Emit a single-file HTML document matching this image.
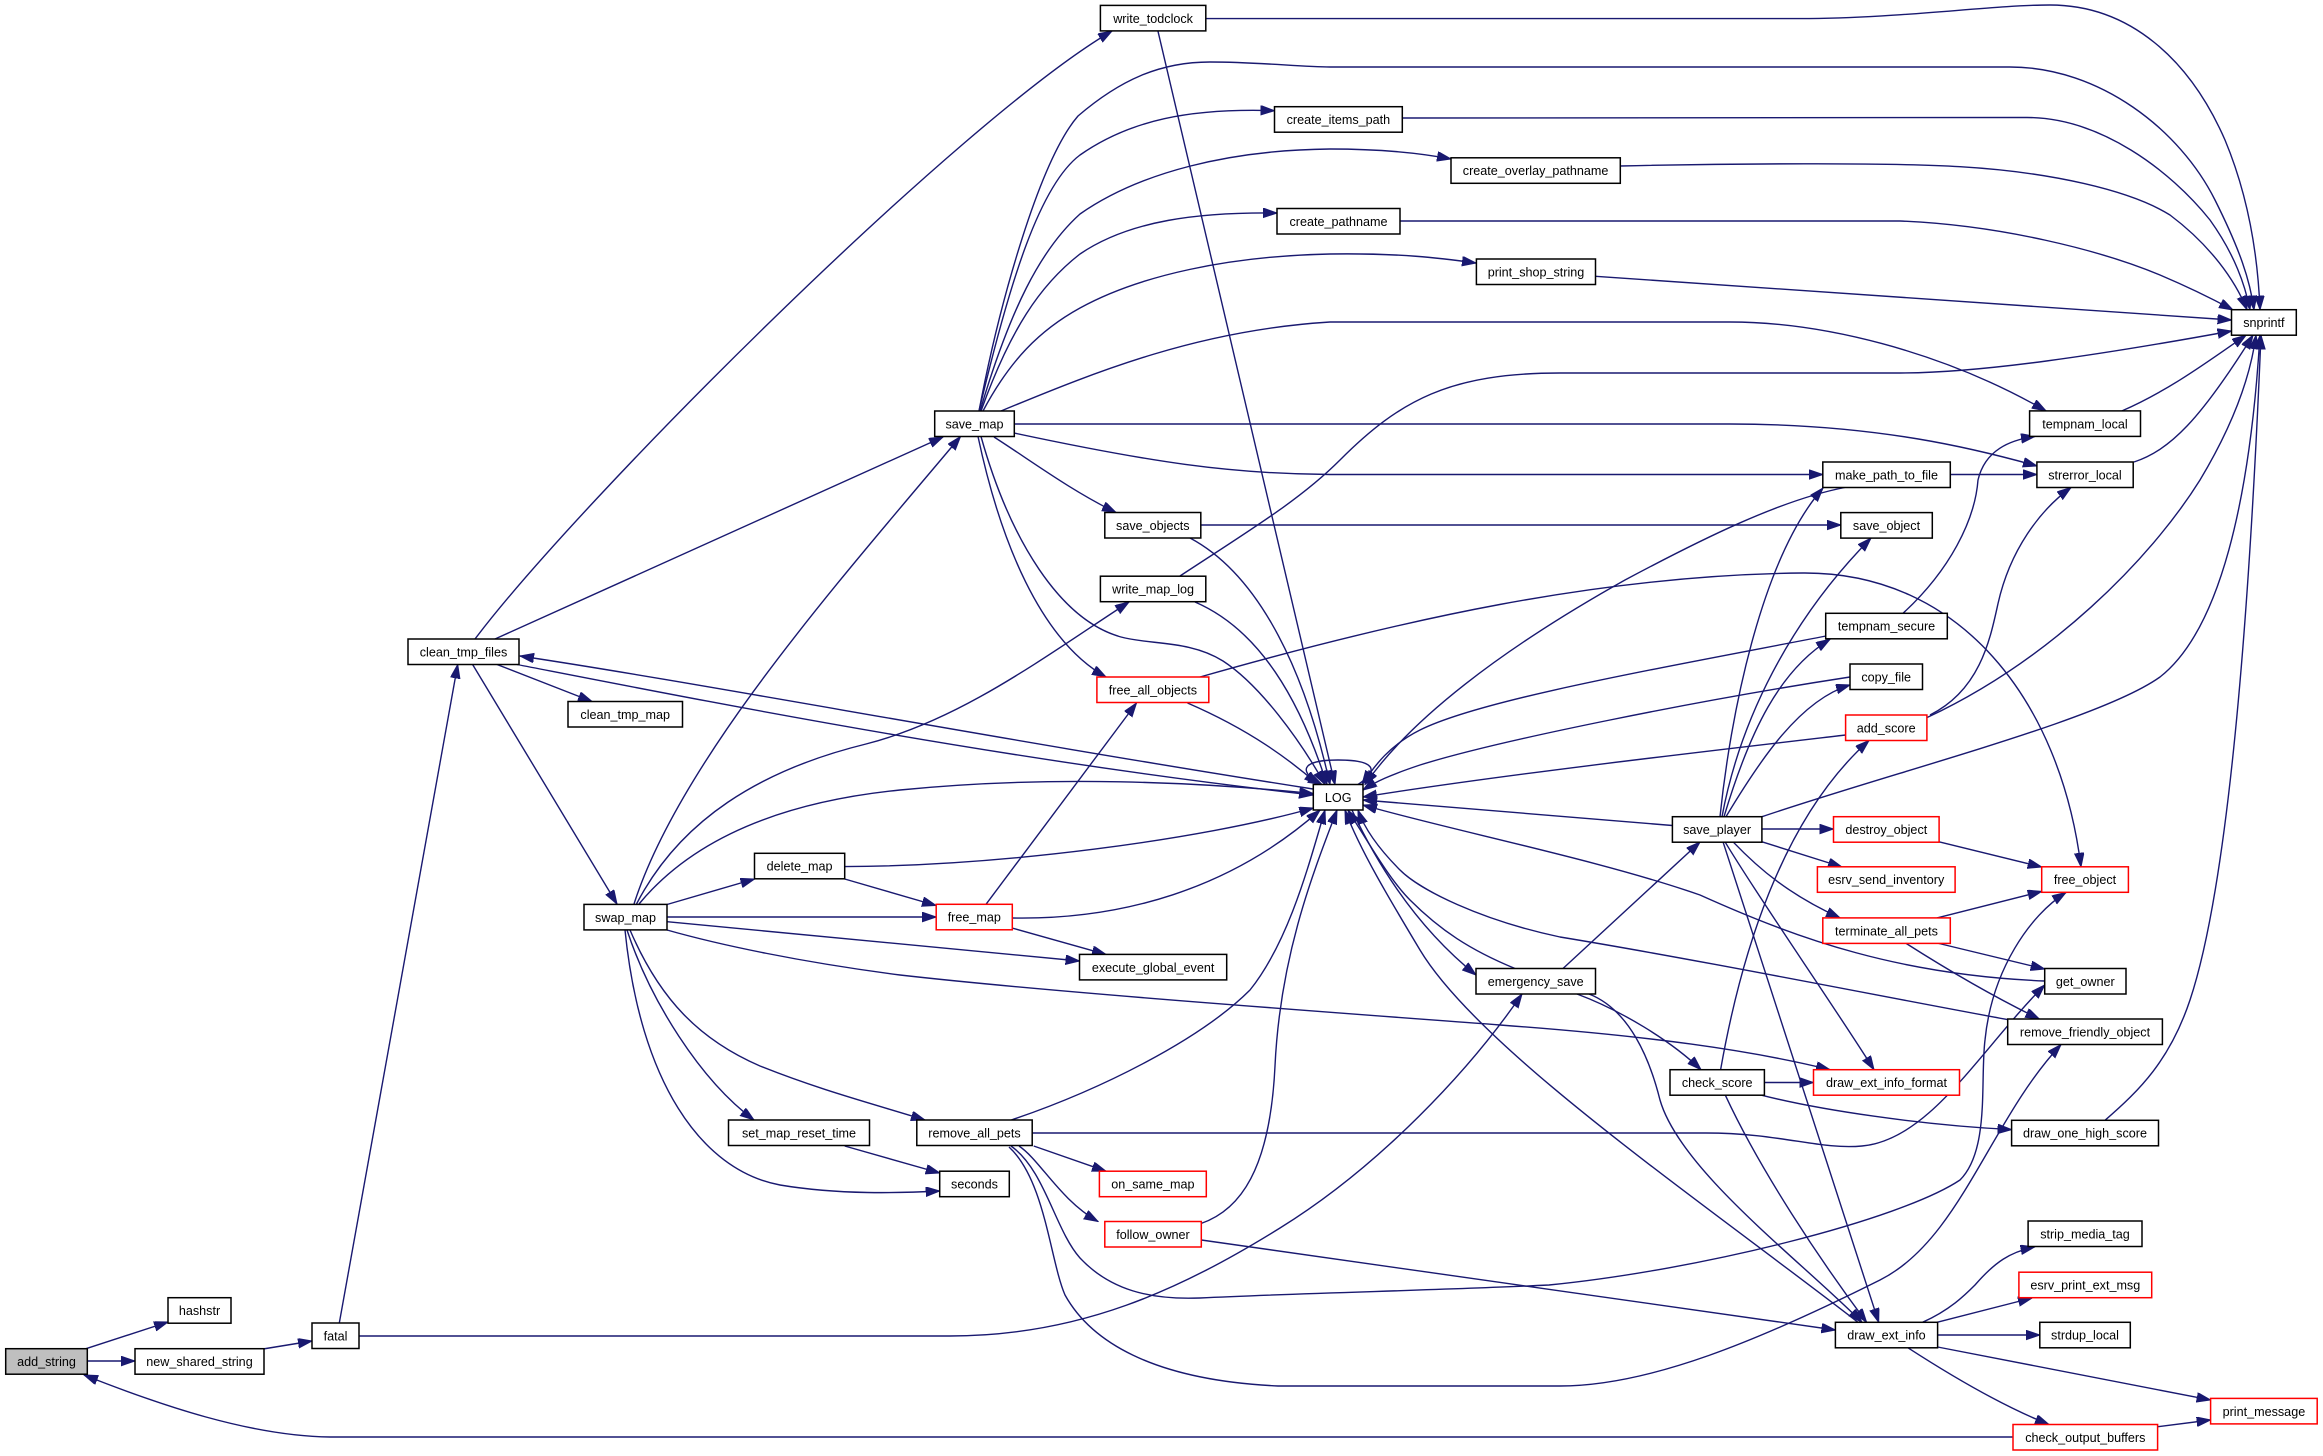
<!DOCTYPE html>
<html><head><meta charset="utf-8"><style>
html,body{margin:0;padding:0;background:#fff;}
svg{display:block;}
.n rect{fill:#fff;stroke:#000;stroke-width:1.5;}
.r rect{stroke:#ff0000;}
text{font-family:"Liberation Sans",Arial,sans-serif;font-size:12.6px;fill:#000;text-anchor:middle;}
.e path{fill:none;stroke:#191970;stroke-width:1.4;marker-end:url(#ah);}
</style></head><body>
<svg width="2323" height="1456" viewBox="0 0 2323 1456" xmlns="http://www.w3.org/2000/svg">
<defs><marker id="ah" markerUnits="userSpaceOnUse" markerWidth="15" markerHeight="11" refX="14" refY="4.8" orient="auto"><path d="M0,0 L14,4.8 L0,9.6 z" fill="#191970" stroke="#191970" stroke-width="1"/></marker></defs>
<rect width="2323" height="1456" fill="#fff"/>
<g class="e">
<path d="M86,1348.7 L168,1322"/>
<path d="M87.3,1361 L135,1361"/>
<path d="M263,1349 L312,1341"/>
<path d="M339.3,1323 L457.7,664.5"/>
<path d="M359,1336 L950,1336 C1080,1336 1180,1290 1280,1228 C1380,1166 1470,1070 1522,994"/>
<path d="M2013,1437 L330,1437 C250,1436 160,1405 84,1375"/>
<path d="M475,639 C580,500 960,120 1112,31"/>
<path d="M495,639 L943,437"/>
<path d="M497,664.5 L592,701.5"/>
<path d="M472.6,664.5 L617,904"/>
<path d="M1313,789 C1000,740 700,683 520,656"/>
<path d="M517,664.5 C700,700 1000,760 1313,795"/>
<path d="M1206,18.6 L1800,18.6 C1900,18.6 1990,5 2050,5 C2130,5 2190,60 2225,140 C2250,200 2258,260 2260,309.7"/>
<path d="M1158,31.3 L1335,784.5"/>
<path d="M979,411 C1000,300 1040,160 1078,116 C1120,80 1160,62 1210,62 C1260,62 1300,67 1330,67 L2010,67 C2100,67 2180,130 2215,200 C2240,250 2250,280 2254,309.7"/>
<path d="M979,411 C1010,280 1040,185 1080,155 C1130,120 1190,108 1274.5,110.7"/>
<path d="M980,411 C1010,310 1040,250 1080,214 C1140,172 1230,150 1330,149 C1380,149 1420,153 1451,159"/>
<path d="M981,411 C1010,330 1040,285 1080,254 C1130,220 1200,212 1277,213"/>
<path d="M983,411 C1010,360 1040,330 1080,308 C1140,275 1230,256 1330,254 C1400,253 1440,258 1476,263"/>
<path d="M1001,411 C1100,370 1200,330 1330,322 L1730,322 C1820,322 1940,350 2046,410.9"/>
<path d="M1014,424 L1730,424 C1880,424 1980,450 2037,466"/>
<path d="M1014,433 C1150,462 1230,474 1330,474.5 L1822.8,474.5"/>
<path d="M994,437 C1030,460 1070,490 1116,512.5"/>
<path d="M978,436.5 C1000,540 1040,640 1106,677"/>
<path d="M981,436.5 C1010,540 1060,620 1121,637 C1150,645 1190,640 1223,661 C1260,685 1300,740 1325,784.5"/>
<path d="M1200.8,525 L1840.8,525"/>
<path d="M1190,538 C1250,570 1300,650 1330,784.5"/>
<path d="M1195,602 C1260,630 1300,700 1327,784.5"/>
<path d="M1180,576 C1250,530 1300,500 1340,460 C1400,400 1450,373 1560,373 L1900,373 C1980,373 2100,355 2231.5,331"/>
<path d="M1187.5,703 C1250,730 1290,760 1318,784.5"/>
<path d="M1200,677 C1400,620 1600,575 1803,573 C1960,572 2060,700 2081,866.8"/>
<path d="M986,904.3 L1136.5,703"/>
<path d="M1012,928 L1106,954.4"/>
<path d="M1012.3,918 C1120,920 1230,890 1320,810.2"/>
<path d="M844.7,879 L936,905.5"/>
<path d="M844.7,866.6 C1000,866 1200,840 1313.3,808"/>
<path d="M667,904.5 L754.5,879"/>
<path d="M667,917 L936.2,917"/>
<path d="M667,921.7 L1079.5,961"/>
<path d="M634,904 C680,760 840,580 960.5,436.5"/>
<path d="M636.5,904 C680,820 760,770 866,744 C960,720 1040,660 1129,602"/>
<path d="M639,904 C700,830 800,800 900,790 C1050,775 1200,782 1313.3,793.6"/>
<path d="M667,930 C720,945 800,962 900,975 C1050,992 1300,1010 1500,1025 C1650,1036 1750,1050 1830,1069.7"/>
<path d="M630,930 C660,1000 700,1040 760,1066 C820,1090 870,1103 925,1120"/>
<path d="M627,930 C650,1000 700,1080 754,1120"/>
<path d="M625,930 C640,1080 700,1170 780,1185 C840,1195 900,1193 939.7,1191"/>
<path d="M844.7,1146 L939.7,1173"/>
<path d="M1011.3,1120 C1100,1090 1200,1040 1250,990 C1290,940 1310,860 1325,810.2"/>
<path d="M1033.7,1146 L1106,1171.2"/>
<path d="M1019,1146 C1040,1160 1060,1200 1098,1221.5"/>
<path d="M1032.2,1133 L1706,1133 C1780,1133 1820,1150 1862,1146 C1930,1140 1980,1050 2044.7,985"/>
<path d="M1011,1146 C1045,1170 1055,1230 1080,1258 C1110,1290 1150,1300 1200,1298 C1300,1293 1450,1290 1549,1285 C1700,1270 1900,1220 1960,1180 C1990,1150 1980,1080 1985,1040 C1992,970 2030,915 2066,892.5"/>
<path d="M1009,1147 C1045,1180 1050,1260 1065,1295 C1090,1340 1150,1380 1278,1386 L1560,1386 C1650,1386 1760,1340 1880,1280 C1960,1240 1990,1120 2061,1044.6"/>
<path d="M1201,1223.5 C1240,1210 1270,1170 1275,1066 C1280,960 1310,880 1337,810.2"/>
<path d="M1201.3,1240 L1835.4,1330"/>
<path d="M1352,810.2 C1380,870 1420,930 1476,975"/>
<path d="M1515,968.5 C1470,950 1440,930 1410,900 C1390,880 1370,845 1348,810.2"/>
<path d="M1858,1322.3 C1700,1200 1480,1050 1420,950 C1390,900 1360,850 1345,810.2"/>
<path d="M1563,968.5 L1700,842"/>
<path d="M1577,994 C1620,1010 1670,1040 1701,1069.7"/>
<path d="M1589,994 C1630,1010 1650,1060 1660,1100 C1680,1170 1800,1260 1862,1322.3"/>
<path d="M1672.4,825.5 L1363,800"/>
<path d="M1761.9,829 L1833.5,829"/>
<path d="M1762,841.8 L1842,867"/>
<path d="M1733,841.8 C1760,870 1790,895 1840,917.9"/>
<path d="M1725,841.8 C1760,900 1830,1000 1874,1069.7"/>
<path d="M1723,841.8 L1878.7,1322.3"/>
<path d="M1762,816.7 C1900,770 2100,720 2160,677 C2220,630 2250,500 2260,335.2"/>
<path d="M1720,816.7 C1730,720 1760,560 1823,488"/>
<path d="M1722,816.7 C1740,720 1790,620 1871,538.1"/>
<path d="M1724,816.7 C1750,730 1780,670 1830,639.3"/>
<path d="M1726,816.7 C1760,760 1800,700 1850,685"/>
<path d="M1720.6,1069.7 C1740,960 1780,820 1869,740.5"/>
<path d="M1764.4,1082.5 L1813.5,1082.5"/>
<path d="M1762,1095.3 C1820,1110 1920,1125 2011.6,1129.6"/>
<path d="M1725.4,1095.3 C1760,1170 1820,1260 1866.6,1322.3"/>
<path d="M1903,613.3 C1950,570 1975,520 1978,480 C1985,450 2010,440 2035,436.4"/>
<path d="M1826,636 C1650,670 1480,700 1420,730 C1390,745 1375,765 1362,784.5"/>
<path d="M1850,677 C1700,700 1500,740 1420,765 C1390,775 1375,782 1363,790"/>
<path d="M1845.6,735 C1700,752 1500,775 1363,797"/>
<path d="M1927.4,717.4 C2050,660 2150,560 2200,480 C2230,430 2250,380 2256,335.2"/>
<path d="M1930,715 C1980,690 1990,640 1998,603.6 C2010,550 2040,510 2071,487.5"/>
<path d="M1950.3,474.5 L2036.9,474.5"/>
<path d="M1844.7,487.5 C1780,500 1700,540 1625,580 C1500,650 1410,720 1365,784.5"/>
<path d="M2122,410.9 C2170,390 2210,360 2246,335.2"/>
<path d="M2134,462 C2170,450 2200,420 2253,335.2"/>
<path d="M1402,118 L2027,117.5 C2100,117.5 2170,170 2210,220 C2235,255 2245,285 2250,309.7"/>
<path d="M1620.3,166 C1750,163 1900,163 1960,166.7 C2050,172 2130,190 2170,215 C2210,245 2235,280 2247,309.7"/>
<path d="M1400,221 L1900,221 C2000,225 2100,250 2160,275 C2200,292 2220,303 2233,310"/>
<path d="M1595.5,276.3 L2231.5,320"/>
<path d="M2105,1120.3 C2140,1090 2170,1060 2190,1000 C2230,880 2250,600 2261,335.2"/>
<path d="M1937,917.9 L2041.7,891.4"/>
<path d="M1937,943 L2044.7,969"/>
<path d="M1905.5,943 C1940,965 1990,995 2039.3,1019"/>
<path d="M1939,841.8 L2041.7,867"/>
<path d="M2044.7,981 C1900,975 1800,940 1700,895 C1600,860 1450,830 1363,805"/>
<path d="M2007.7,1019.6 C1900,1000 1700,960 1560,937 C1480,920 1420,890 1400,870 C1380,850 1365,830 1358,810.2"/>
<path d="M1922.5,1322.3 C1950,1310 1965,1295 1975,1285 C1995,1262 2010,1252 2034.5,1247"/>
<path d="M1937,1322.3 L2032,1298"/>
<path d="M1937.6,1335 L2039.8,1335"/>
<path d="M1937.6,1347 L2210.6,1400"/>
<path d="M1908,1347.8 C1950,1375 2000,1405 2049,1424.5"/>
<path d="M2157.6,1426.7 L2210.6,1420"/>
<path d="M1358,784.5 C1380,770 1375,760 1338,760 C1300,760 1298,772 1322,784.5"/>
</g>
<g class="n">
<rect x="5.7" y="1348.7" width="81.6" height="25.5" style="fill:#bfbfbf"/><text x="46.5" y="1366.1">add_string</text>
<rect x="168" y="1297.7" width="63" height="25.5"/><text x="199.5" y="1315.1">hashstr</text>
<rect x="135" y="1348.7" width="129" height="25.5"/><text x="199.5" y="1366.1">new_shared_string</text>
<rect x="312" y="1323" width="47" height="25.5"/><text x="335.5" y="1340.4">fatal</text>
<rect x="408" y="639" width="111" height="25.5"/><text x="463.5" y="656.4">clean_tmp_files</text>
<rect x="568" y="701.5" width="114.5" height="25.5"/><text x="625.2" y="718.9">clean_tmp_map</text>
<rect x="584" y="904.4" width="83" height="25.5"/><text x="625.5" y="921.8">swap_map</text>
<rect x="1100.4" y="5.4" width="105.4" height="25.5"/><text x="1153.1" y="22.8">write_todclock</text>
<rect x="1274.5" y="106.7" width="127.8" height="25.5"/><text x="1338.4" y="124.1">create_items_path</text>
<rect x="1451" y="157.8" width="169.3" height="25.5"/><text x="1535.6" y="175.2">create_overlay_pathname</text>
<rect x="1277" y="208.5" width="123" height="25.5"/><text x="1338.5" y="225.9">create_pathname</text>
<rect x="1476.4" y="259" width="119.1" height="25.5"/><text x="1536" y="276.4">print_shop_string</text>
<rect x="934.7" y="411" width="79.6" height="25.5"/><text x="974.5" y="428.4">save_map</text>
<rect x="1104.8" y="512.5" width="96" height="25.5"/><text x="1152.8" y="529.9">save_objects</text>
<rect x="1100.4" y="576.2" width="105.4" height="25.5"/><text x="1153.1" y="593.6">write_map_log</text>
<g class="r"><rect x="1096.9" y="677" width="111.9" height="25.5"/></g><text x="1152.9" y="694.4">free_all_objects</text>
<rect x="1313.3" y="784.5" width="49.7" height="25.5"/><text x="1338.2" y="801.9">LOG</text>
<rect x="754.5" y="853.3" width="90.2" height="25.5"/><text x="799.6" y="870.7">delete_map</text>
<g class="r"><rect x="936.2" y="904.3" width="76.1" height="25.5"/></g><text x="974.3" y="921.7">free_map</text>
<rect x="1079.5" y="954.4" width="147.2" height="25.5"/><text x="1153.1" y="971.8">execute_global_event</text>
<rect x="916.8" y="1120" width="115.4" height="25.5"/><text x="974.5" y="1137.4">remove_all_pets</text>
<rect x="728.5" y="1120" width="141" height="25.5"/><text x="799" y="1137.4">set_map_reset_time</text>
<rect x="939.7" y="1171.2" width="69.6" height="25.5"/><text x="974.5" y="1188.6">seconds</text>
<g class="r"><rect x="1099.4" y="1171.2" width="106.9" height="25.5"/></g><text x="1152.9" y="1188.6">on_same_map</text>
<g class="r"><rect x="1104.8" y="1221.5" width="96.5" height="25.5"/></g><text x="1153" y="1238.9">follow_owner</text>
<rect x="1476" y="968.5" width="119.5" height="25.5"/><text x="1535.7" y="985.9">emergency_save</text>
<rect x="1672.4" y="816.7" width="89.5" height="25.5"/><text x="1717.1" y="834.1">save_player</text>
<rect x="1670" y="1069.7" width="94.4" height="25.5"/><text x="1717.2" y="1087.1">check_score</text>
<rect x="1835.4" y="1322.3" width="102.2" height="25.5"/><text x="1886.5" y="1339.7">draw_ext_info</text>
<rect x="2029.6" y="410.9" width="110.9" height="25.5"/><text x="2085" y="428.3">tempnam_local</text>
<rect x="2036.9" y="462" width="96.3" height="25.5"/><text x="2085" y="479.4">strerror_local</text>
<rect x="1822.8" y="462" width="127.5" height="25.5"/><text x="1886.5" y="479.4">make_path_to_file</text>
<rect x="1840.8" y="512.6" width="91.5" height="25.5"/><text x="1886.5" y="530">save_object</text>
<rect x="1825.7" y="613.3" width="121.6" height="25.5"/><text x="1886.5" y="630.7">tempnam_secure</text>
<rect x="1850" y="664" width="72.5" height="25.5"/><text x="1886.2" y="681.4">copy_file</text>
<g class="r"><rect x="1845.6" y="715" width="81.3" height="25.5"/></g><text x="1886.2" y="732.4">add_score</text>
<g class="r"><rect x="1833.5" y="816.7" width="105.6" height="25.5"/></g><text x="1886.3" y="834.1">destroy_object</text>
<g class="r"><rect x="1817.4" y="866.8" width="137.7" height="25.5"/></g><text x="1886.2" y="884.2">esrv_send_inventory</text>
<g class="r"><rect x="1822.8" y="917.9" width="127.5" height="25.5"/></g><text x="1886.5" y="935.3">terminate_all_pets</text>
<g class="r"><rect x="1813.5" y="1069.7" width="146" height="25.5"/></g><text x="1886.5" y="1087.1">draw_ext_info_format</text>
<g class="r"><rect x="2041.7" y="866.8" width="86.7" height="25.5"/></g><text x="2085" y="884.2">free_object</text>
<rect x="2044.7" y="968.5" width="81.3" height="25.5"/><text x="2085.3" y="985.9">get_owner</text>
<rect x="2007.7" y="1019" width="154.7" height="25.5"/><text x="2085" y="1036.4">remove_friendly_object</text>
<rect x="2011.6" y="1120.3" width="146.9" height="25.5"/><text x="2085" y="1137.7">draw_one_high_score</text>
<rect x="2231.5" y="309.7" width="64.8" height="25.5"/><text x="2263.9" y="327.1">snprintf</text>
<rect x="2028.1" y="1221" width="113.9" height="25.5"/><text x="2085" y="1238.4">strip_media_tag</text>
<g class="r"><rect x="2018.9" y="1272.2" width="132.8" height="25.5"/></g><text x="2085.3" y="1289.6">esrv_print_ext_msg</text>
<rect x="2039.8" y="1322.3" width="90.5" height="25.5"/><text x="2085" y="1339.7">strdup_local</text>
<g class="r"><rect x="2210.6" y="1398.4" width="106.6" height="25.5"/></g><text x="2263.9" y="1415.8">print_message</text>
<g class="r"><rect x="2013" y="1424.5" width="144.6" height="25.5"/></g><text x="2085.3" y="1441.9">check_output_buffers</text>
</g>
</svg>
</body></html>
